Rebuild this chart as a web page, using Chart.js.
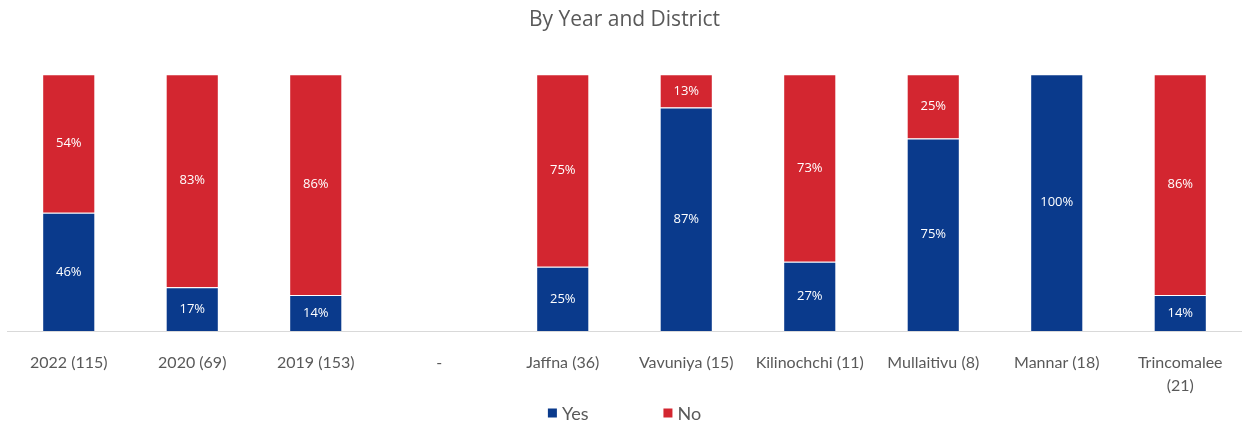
<!DOCTYPE html>
<html>
<head>
<meta charset="utf-8">
<script src="https://cdn.jsdelivr.net/npm/chart.js@4"></script>
<style>
html,body{margin:0;padding:0;background:#fff;}
#wrap{width:1242px;height:425px;position:relative;}
</style>
</head>
<body>
<div id="wrap"><canvas id="c" width="1242" height="425"></canvas></div>
<script>
const categories = ["2022 (115)", "2020 (69)", "2019 (153)", "-", "Jaffna (36)", "Vavuniya (15)", "Kilinochchi (11)", "Mullaitivu (8)", "Mannar (18)", ["Trincomalee", "(21)"]];
const yesValues = [46, 17, 14, null, 25, 87, 27, 75, 100, 14];
const noValues  = [54, 83, 86, null, 75, 13, 73, 25, 0, 86];
const seriesNames = ["Yes", "No"];
const titleText = "By Year and District";

const BLUE = "#0a3a8c";
const RED = "#d32630";

const labelPlugin = {
  id: "segLabels",
  afterDatasetsDraw(chart) {
    const ctx = chart.ctx;
    ctx.save();
    ctx.fillStyle = "#ffffff";
    ctx.font = "13px 'Open Sans', sans-serif";
    ctx.textAlign = "center";
    ctx.textBaseline = "middle";
    chart.data.datasets.forEach((ds, di) => {
      const meta = chart.getDatasetMeta(di);
      meta.data.forEach((bar, i) => {
        const v = ds.data[i];
        if (v === null || v === 0) return;
        const p = bar.getProps(["x", "y", "base"], true);
        ctx.fillText(v + "%", p.x, (p.y + p.base) / 2);
      });
    });
    ctx.restore();
  }
};

const legendPlugin = {
  id: "customLegend",
  afterDraw(chart) {
    const ctx = chart.ctx;
    const area = chart.chartArea;
    const y = 413;
    const box = 9, gapBoxText = 5, itemGap = 75;
    ctx.save();
    ctx.font = "18px Lato, sans-serif";
    ctx.textBaseline = "middle";
    const items = chart.data.datasets.map(ds => ({ text: ds.label, color: ds.backgroundColor, w: ctx.measureText(ds.label).width }));
    let total = 0;
    items.forEach((it, i) => { total += box + gapBoxText + it.w + (i < items.length - 1 ? itemGap : 0); });
    let x = (area.left + area.right) / 2 - total / 2;
    items.forEach(it => {
      ctx.fillStyle = it.color;
      ctx.fillRect(x, y - box / 2, box, box);
      x += box + gapBoxText;
      ctx.fillStyle = "#595959";
      ctx.textAlign = "left";
      ctx.fillText(it.text, x, y + 1);
      x += it.w + itemGap;
    });
    ctx.restore();
  }
};

new Chart(document.getElementById("c"), {
  type: "bar",
  data: {
    labels: categories,
    datasets: [
      { label: seriesNames[0], data: yesValues, backgroundColor: BLUE, borderColor: "#ffffff", borderWidth: 1, categoryPercentage: 1, barPercentage: 0.43 },
      { label: seriesNames[1], data: noValues, backgroundColor: RED, borderColor: "#ffffff", borderWidth: 1, categoryPercentage: 1, barPercentage: 0.43 }
    ]
  },
  options: {
    responsive: false,
    animation: false,
    layout: { padding: { left: 7, right: 0, top: 0, bottom: 24 } },
    plugins: {
      title: {
        display: true,
        text: titleText,
        color: "#595959",
        font: { family: "'Open Sans', sans-serif", size: 21, weight: "normal" },
        padding: { top: 7, bottom: 42 }
      },
      legend: { display: false },
      tooltip: { enabled: false }
    },
    scales: {
      x: {
        stacked: true,
        grid: { display: false },
        border: { display: true, color: "#d9d9d9", width: 1 },
        afterFit(scale) { scale.height = 70; },
        ticks: {
          color: "#595959",
          font: { family: "Lato, sans-serif", size: 16, lineHeight: 1.45 },
          padding: 12,
          maxRotation: 0,
          autoSkip: false
        }
      },
      y: {
        stacked: true,
        display: false,
        min: 0,
        max: 100
      }
    }
  },
  plugins: [labelPlugin, legendPlugin]
});
</script>
</body>
</html>
